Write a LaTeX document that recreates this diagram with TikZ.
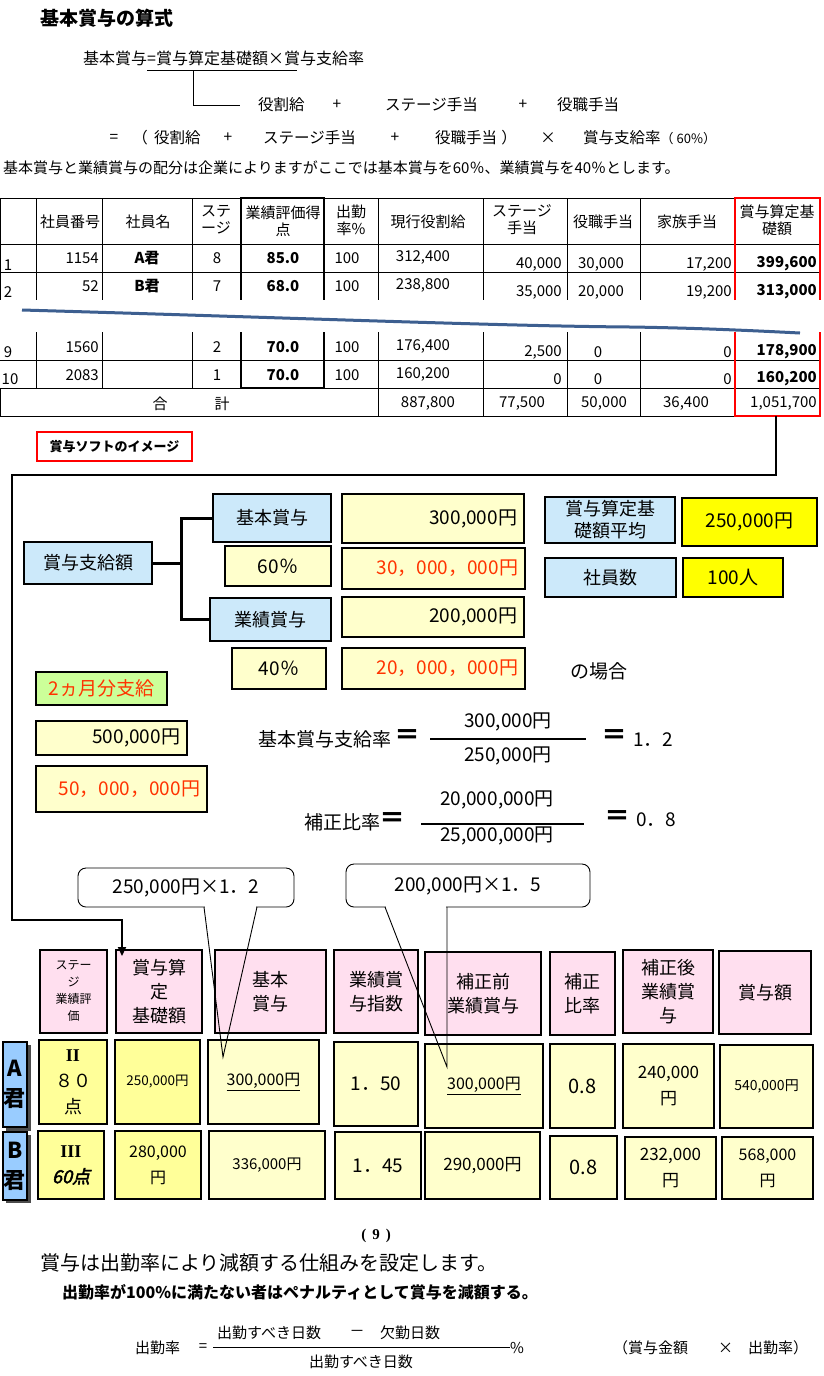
\documentclass[tikz,border=0pt]{standalone}
\usepackage{fontspec}
\setmainfont{Noto Sans CJK JP}
\newfontfamily\serifrm{Liberation Serif}
\newfontfamily\slnt[FakeSlant=0.25,FakeBold=2.5]{Noto Sans CJK JP}
\usetikzlibrary{arrows.meta}
\definecolor{clb}{HTML}{CCE9FA}
\definecolor{cly}{HTML}{FFFFCC}
\definecolor{cyb}{HTML}{FFFF00}
\definecolor{cgr}{HTML}{CCFF99}
\definecolor{cpk}{HTML}{FFDFEF}
\definecolor{cy2}{HTML}{FFFF99}
\definecolor{clab}{HTML}{99CCFF}
\definecolor{crd}{HTML}{FF3300}
\definecolor{cwave}{HTML}{3D5F90}
\newcommand\fs[2]{\fontsize{#1}{#2}\selectfont}
\newcommand{\mybox}[8][center]{%
 \pgfmathsetmacro\bxw{#5-#3}%
 \pgfmathsetmacro\bxh{#6-#4}%
 \pgfmathsetmacro\bxt{#5-#3-14}%
 \pgfmathsetmacro\bxcx{(#3+#5)/2}%
 \pgfmathsetmacro\bxcy{(#4+#6)/2}%
 \node[#7, inner sep=0pt, text width=\bxt pt, align=#1, minimum width=\bxw pt, minimum height=\bxh pt] (#2) at (\bxcx,\bxcy) {#8};}
\tikzset{
 tc/.style={font=\fs{15}{17}, inner sep=0pt, align=center},
 tcb/.style={tc, font=\fs{15}{17}\bfseries},
 txt/.style={font=\fs{15.5}{18}, inner sep=0pt},
 f19/.style={font=\fs{19}{22}, inner sep=0pt},
 eqs/.style={font=\fs{26}{28}\bfseries, inner sep=0pt},
 mb/.style={draw=black, line width=2.2pt},
 bl/.style={mb, fill=clb, font=\fs{18}{22}},
 ly/.style={mb, fill=cly, font=\fs{19}{23}},
 yb/.style={mb, fill=cyb, font=\fs{19}{23}},
 gr/.style={mb, fill=cgr, font=\fs{19}{23}},
 pk/.style={mb, fill=cpk, font=\fs{18}{24}},
 ytwo/.style={mb, fill=cy2, font=\fs{18}{26}},
 lc/.style={mb, fill=cly, font=\fs{18}{24}},
 lab/.style={draw=black, line width=1.5pt, fill=clab, font=\fs{22}{30}\bfseries, inner sep=0pt, align=center},
 tl/.style={line width=0.8pt},
 tk/.style={line width=2pt},
 rl/.style={draw=red, line width=2pt},
 co/.style={draw, rounded corners=8pt, fill=white, line width=0.9pt, font=\fs{19}{22}, inner sep=0pt},
}
\begin{document}
\begin{tikzpicture}[x=1pt,y=-1pt]
\useasboundingbox (0,0) rectangle (823,1376);
\fill[white] (0,0) rectangle (823,1376);

% ---------- top formula ----------
\node[anchor=west, font=\fs{19}{22}\bfseries, inner sep=0] (title) at (40,18) {基本賞与の算式};
\node[anchor=west, font=\fs{16}{19}, inner sep=0] (f1) at (83,58) {基本賞与=賞与算定基礎額×賞与支給率};
\coordinate (ulL) at (147,70); \coordinate (ulR) at (297,70);
\draw[line width=0.9pt] (ulL) -- (ulR);
\coordinate (ulM) at (193,70); \coordinate (brk) at (240,105);
\draw[line width=0.9pt] (ulM) |- (brk);
\node[txt, anchor=west] (ra1) at (258,105) {役割給};
\node[txt] (ra2) at (337,105) {+};
\node[txt, anchor=west] (ra3) at (385,105) {ステージ手当};
\node[txt] (ra4) at (523,105) {+};
\node[txt, anchor=west] (ra5) at (557,105) {役職手当};
\node[txt] (rb1) at (114,138) {=};
\node[txt] (rb2) at (140,138) {（};
\node[txt, anchor=west] (rb3) at (154,138) {役割給};
\node[txt] (rb4) at (228,138) {+};
\node[txt, anchor=west] (rb5) at (263,138) {ステージ手当};
\node[txt] (rb6) at (395,138) {+};
\node[txt, anchor=west] (rb7) at (435,138) {役職手当};
\node[txt] (rb8) at (509,138) {）};
\node[txt] (rb9) at (548,138) {×};
\node[txt, anchor=west] (rb10) at (583,138) {賞与支給率{\fs{13}{15}（ 60\%）}};
\node[anchor=west, font=\fs{15}{17}, inner sep=0] (intro) at (3,168) {基本賞与と業績賞与の配分は企業によりますがここでは基本賞与を60％、業績賞与を40％とします。};

% ---------- top table ----------
\foreach \yy in {198,244,272,360,388,416} \draw[tl] (0,\yy) -- (820,\yy);
\draw[tl] (0,198) -- (0,300) (0,388) -- (0,416);
\foreach \xx in {36,102,192} \draw[tl] (\xx,198) -- (\xx,300) (\xx,332) -- (\xx,388);
\foreach \xx in {378,483,567,640} \draw[tl] (\xx,198) -- (\xx,300) (\xx,332) -- (\xx,416);
\draw[tk] (241,198) -- (241,300) (241,332) -- (241,388) (324,198) -- (324,300) (324,332) -- (324,388);
\draw[tk] (240,198) -- (325,198) (240,388) -- (325,388);
\draw[rl] (735,300) -- (735,198) -- (820,198) -- (820,300);
\draw[rl] (735,332) -- (735,416) -- (820,416) -- (820,332);

\node[tc] (hd1) at (70,222) {社員番号};
\node[tc] (hd2) at (148,222) {社員名};
\node[tc] (hd3) at (216,220) {ステ\\ージ};
\node[tc] (hd4) at (283,221) {業績評価得\\点};
\node[tc] (hd5) at (351,220) {出勤\\率\%};
\node[tc] (hd6) at (428,222) {現行役割給};
\node[tc] (hd7) at (522,220) {ステージ\\手当};
\node[tc] (hd8) at (603,222) {役職手当};
\node[tc] (hd9) at (687,222) {家族手当};
\node[tc] (hd10) at (777,220) {賞与算定基\\礎額};

% row 1
\node[tc] (n1) at (8,265) {1};
\node[tc,anchor=east] (e1) at (99,258) {1154};
\node[tcb] (m1) at (147,258) {A君};
\node[tc] (s1) at (217,258) {8};
\node[tcb] (p1) at (283,258) {85.0};
\node[tc] (a1) at (347,258) {100};
\node[tc] (y1) at (423,257) {312,400};
\node[tc,anchor=east] (st1) at (562,264) {40,000};
\node[tc] (yk1) at (601,264) {30,000};
\node[tc,anchor=east] (kz1) at (732,264) {17,200};
\node[tcb,anchor=east] (z1) at (817,264) {399,600};
% row 2
\node[tc] (n2) at (8,292) {2};
\node[tc,anchor=east] (e2) at (99,286) {52};
\node[tcb] (m2) at (147,286) {B君};
\node[tc] (s2) at (217,286) {7};
\node[tcb] (p2) at (283,286) {68.0};
\node[tc] (a2) at (347,286) {100};
\node[tc] (y2) at (423,285) {238,800};
\node[tc,anchor=east] (st2) at (562,292) {35,000};
\node[tc] (yk2) at (601,292) {20,000};
\node[tc,anchor=east] (kz2) at (732,292) {19,200};
\node[tcb,anchor=east] (z2) at (817,292) {313,000};
% row 9
\node[tc] (n9) at (8,352) {9};
\node[tc,anchor=east] (e9) at (99,347) {1560};
\node[tc] (s9) at (217,347) {2};
\node[tcb] (p9) at (283,347) {70.0};
\node[tc] (a9) at (347,347) {100};
\node[tc] (y9) at (423,346) {176,400};
\node[tc,anchor=east] (st9) at (562,352) {2,500};
\node[tc] (yk9) at (598,352) {0};
\node[tc,anchor=east] (kz9) at (732,352) {0};
\node[tcb,anchor=east] (z9) at (817,352) {178,900};
% row 10
\node[tc] (n10) at (10,379) {10};
\node[tc,anchor=east] (e10) at (99,375) {2083};
\node[tc] (s10) at (217,375) {1};
\node[tcb] (p10) at (283,375) {70.0};
\node[tc] (a10) at (347,375) {100};
\node[tc] (y10) at (423,374) {160,200};
\node[tc,anchor=east] (st10) at (562,379) {0};
\node[tc] (yk10) at (598,379) {0};
\node[tc,anchor=east] (kz10) at (732,379) {0};
\node[tcb,anchor=east] (z10) at (817,379) {160,200};
% total
\node[tc] (g1) at (160,404) {合};
\node[tc] (g2) at (222,404) {計};
\node[tc] (gy1) at (428,403) {887,800};
\node[tc] (gs1) at (522,403) {77,500};
\node[tc] (gk1) at (604,403) {50,000};
\node[tc] (gz1) at (686,403) {36,400};
\node[tc,anchor=east] (gt1) at (817,403) {1,051,700};

% wave break line
\draw[line width=3pt, cwave] (22,310) .. controls (300,318) and (500,326) .. (630,327) .. controls (700,328) and (760,331) .. (800,333);

% label box
\node[draw=red, line width=2pt, minimum width=155pt, minimum height=29pt, font=\fs{13}{15}\bfseries, inner sep=0] (soft) at (114.5,446.5) {賞与ソフトのイメージ};

% ---------- middle section ----------
\mybox{sk}{24}{542}{152}{584}{bl}{賞与支給額}
\mybox{bk}{213}{494}{331}{542}{bl}{基本賞与}
\mybox[right]{v1}{342}{494}{524}{543}{ly}{300,000円}
\mybox{p60}{225}{546}{331}{586}{ly}{60％}
\mybox[right]{v2}{342}{548}{525}{589}{ly,text=crd}{30，000，000円}
\mybox{gy}{210}{598}{331}{641}{bl}{業績賞与}
\mybox[right]{v3}{342}{597}{524}{637}{ly}{200,000円}
\mybox{p40}{232}{648}{326}{689}{ly}{40％}
\mybox[right]{v4}{342}{648}{525}{689}{ly,text=crd}{20，000，000円}
\mybox{avg}{545}{497}{675}{543}{bl}{賞与算定基\\礎額平均}
\mybox{avgv}{682}{498}{817}{546}{yb}{250,000円}
\mybox{ninzu}{545}{558}{676}{597}{bl}{社員数}
\mybox{ninzuv}{683}{558}{783}{597}{yb}{100人}
\node[f19] (baai) at (599,671) {の場合};
\mybox{tsuki}{36}{672}{167}{705}{gr,text=crd}{2ヵ月分支給}
\mybox[right]{v5}{36}{721}{187}{755}{ly}{500,000円}
\mybox[right]{v6}{36}{766}{207}{812}{ly,text=crd}{50，000，000円}

\coordinate (bj) at (181,563);
\draw[line width=3pt] (sk.east) -- (sk.east -| bj);
\draw[line width=3pt] (bk.west) -- (bk.west -| bj) -- (gy.west -| bj) -- (gy.west);

% formulas
\node[f19, anchor=west] (kr) at (258,739) {基本賞与支給率};
\node[eqs] (eq1) at (407,737) {＝};
\node[f19] (num1) at (508,722) {300,000円};
\coordinate (fl1a) at (430,739); \coordinate (fl1b) at (586,739);
\draw[line width=2.5pt] (fl1a) -- (fl1b);
\node[f19] (den1) at (508,756) {250,000円};
\node[eqs] (eq2) at (614,737) {＝};
\node[f19, anchor=west] (res1) at (633,740) {1．2};

\node[f19, anchor=west] (hr) at (304,822) {補正比率};
\node[eqs] (eq3) at (392,820) {＝};
\node[f19] (num2) at (497,800) {20,000,000円};
\coordinate (fl2a) at (421,824); \coordinate (fl2b) at (584,824);
\draw[line width=2.5pt] (fl2a) -- (fl2b);
\node[f19] (den2) at (497,836) {25,000,000円};
\node[eqs] (eq4) at (617,818) {＝};
\node[f19, anchor=west] (res2) at (636,820) {0．8};

% ---------- bottom table ----------
\mybox{h1}{40}{950}{107}{1033}{pk,font=\fs{12}{17}}{ステー\\ジ\\業績評\\価}
\mybox{h2}{116}{950}{202}{1033}{pk}{賞与算\\定\\基礎額}
\mybox{h3}{215}{950}{326}{1033}{pk}{基本\\賞与}
\mybox{h4}{334}{950}{418}{1033}{pk}{業績賞\\与指数}
\mybox{h5}{425}{952}{541}{1035}{pk}{補正前\\業績賞与}
\mybox{h6}{550}{952}{615}{1035}{pk}{補正\\比率}
\mybox{h7}{623}{950}{713}{1033}{pk}{補正後\\業績賞\\与}
\mybox{h8}{719}{951}{811}{1034}{pk}{賞与額}

\fill[gray!60!black] (6,1045) rectangle (31,1131);
\node[lab, minimum width=24pt, minimum height=85pt] (labA) at (15,1084.5) {A\\君};
\fill[gray!60!black] (6,1135) rectangle (31,1203);
\node[lab, minimum width=24pt, minimum height=68pt] (labB) at (15,1166) {B\\君};

\mybox{ra}{39}{1040}{107}{1124}{ytwo}{{\serifrm\bfseries II}\\８０\\点}
\mybox{rab}{115}{1040}{200}{1124}{ytwo,font=\fs{13.5}{16}}{250,000円}
\mybox{rac}{208}{1040}{319}{1124}{lc,font=\fs{16}{18}}{\underline{300,000円}}
\mybox{rad}{334}{1042}{418}{1126}{lc,font=\fs{19}{22}}{1．50}
\mybox{rae}{425}{1044}{543}{1128}{lc,font=\fs{16}{18}}{\underline{300,000円}}
\mybox{raf}{550}{1044}{615}{1128}{lc,font=\fs{20}{22}}{0.8}
\mybox{rag}{623}{1044}{714}{1128}{lc,font=\fs{17}{26}}{240,000\\円}
\mybox{rah}{720}{1045}{813}{1128}{lc,font=\fs{14}{16}}{540,000円}

\mybox{rba}{38}{1131}{104}{1199}{ytwo}{{\serifrm\bfseries III}\\{\slnt 60点}}
\mybox{rbb}{115}{1131}{201}{1199}{ytwo,font=\fs{16}{26}}{280,000\\円}
\mybox{rbc}{209}{1131}{325}{1199}{lc,font=\fs{15}{18}}{336,000円}
\mybox{rbd}{335}{1132}{421}{1199}{lc,font=\fs{19}{22}}{1．45}
\mybox{rbe}{425}{1132}{540}{1199}{lc,font=\fs{17}{20}}{290,000円}
\mybox{rbf}{550}{1136}{617}{1199}{lc,font=\fs{20}{22}}{0.8}
\mybox{rbg}{625}{1137}{716}{1199}{lc,font=\fs{17}{26}}{232,000\\円}
\mybox{rbh}{722}{1137}{813}{1199}{lc,font=\fs{16}{26}}{568,000\\円}

% connector from red column to table
\coordinate (rb) at (776,416);
\coordinate (cn1) at (776,475);
\coordinate (cn2) at (12,475);
\coordinate (cn3) at (12,920);
\coordinate (cn4) at (122,920);
\coordinate (cn5) at (122,956);
\draw[line width=2pt, -{Triangle[length=9pt,width=8pt]}] (rb) -- (cn1) -- (cn2) -- (cn3) -- (cn4) -- (cn5);

% callouts
\node[co, minimum width=216pt, minimum height=39pt] (co1) at (186,887.5) {250,000円×1．2};
\coordinate (co1a) at (204,907); \coordinate (co1b) at (257,907); \coordinate (co1t) at (223,1057);
\draw[white, line width=2pt] ([xshift=0.6pt]co1a) -- ([xshift=-0.6pt]co1b);
\draw[line width=0.9pt] (co1a) -- (co1t) -- (co1b);
\node[co, minimum width=244pt, minimum height=43pt] (co2) at (468,885.5) {200,000円×1．5};
\coordinate (co2a) at (385,907); \coordinate (co2b) at (447,907); \coordinate (co2t) at (447,1067);
\draw[white, line width=2pt] ([xshift=0.6pt]co2a) -- ([xshift=-0.6pt]co2b);
\draw[line width=0.9pt] (co2a) -- (co2t) -- (co2b);

% ---------- bottom text ----------
\node[font=\fs{15}{17}\serifrm\bfseries, inner sep=0] (pg) at (376,1236) {(\hspace{6pt}9\hspace{6pt})};
\node[anchor=west, font=\fs{20}{23}, inner sep=0] (bt1) at (40,1263) {賞与は出勤率により減額する仕組みを設定します。};
\node[anchor=west, font=\fs{16}{19}\bfseries, inner sep=0] (bt2) at (62,1292) {出勤率が100\%に満たない者はペナルティとして賞与を減額する。};
\node[anchor=west, font=\fs{15}{17}, inner sep=0] (sr) at (135,1348) {出勤率};
\node[font=\fs{15}{17}, inner sep=0] (seq) at (203,1348) {=};
\node[anchor=west, font=\fs{15}{17}, inner sep=0] (sn1) at (217,1333) {出勤すべき日数};
\node[font=\fs{15}{17}, inner sep=0] (sn2) at (357,1333) {－};
\node[anchor=west, font=\fs{15}{17}, inner sep=0] (sn3) at (380,1333) {欠勤日数};
\coordinate (sla) at (213,1347); \coordinate (slb) at (510,1347);
\draw[line width=0.8pt] (sla) -- (slb);
\node[anchor=west, font=\fs{15}{17}, inner sep=0] (spc) at (510,1348) {\%};
\node[font=\fs{15}{17}, inner sep=0] (sden) at (361,1362) {出勤すべき日数};
\node[anchor=west, font=\fs{15}{17}, inner sep=0] (sx) at (613,1348) {（賞与金額　　×　出勤率）};
\end{tikzpicture}
\end{document}
